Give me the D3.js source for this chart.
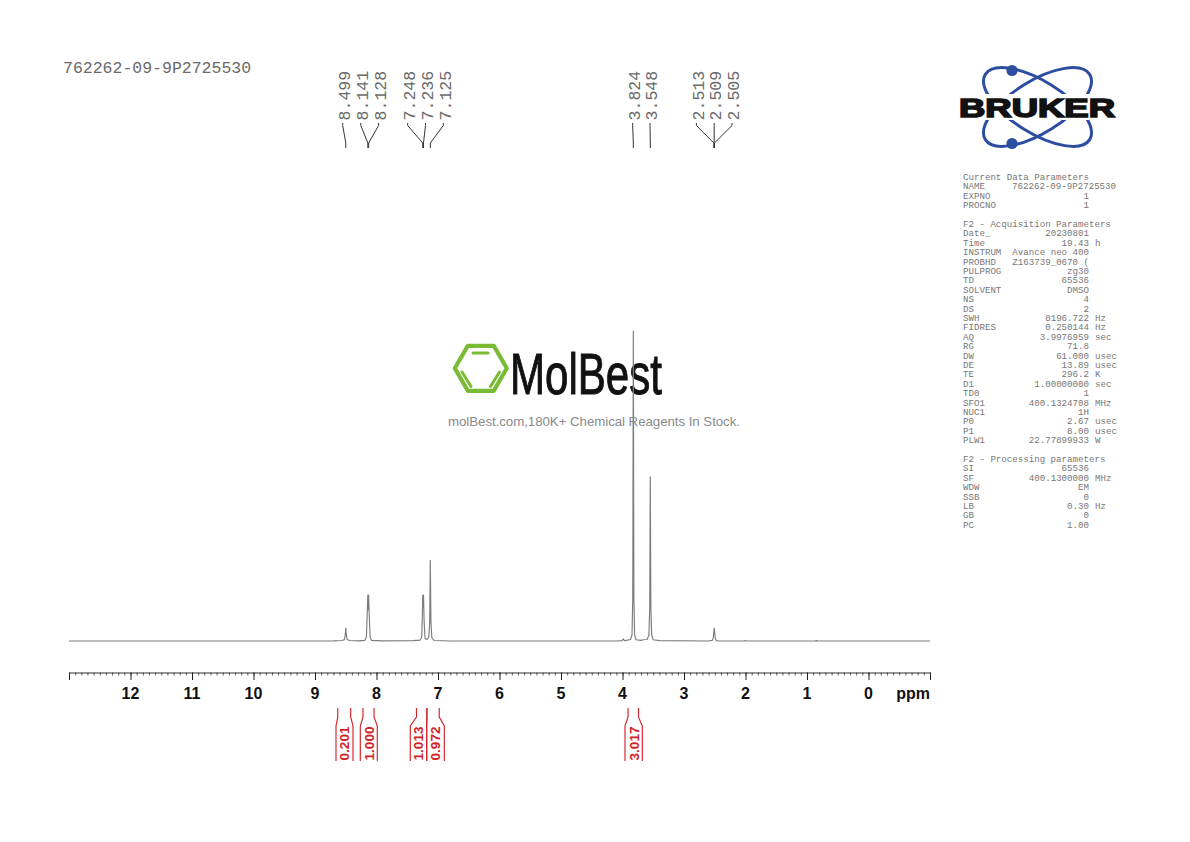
<!DOCTYPE html>
<html><head><meta charset="utf-8">
<script src="https://cdnjs.cloudflare.com/ajax/libs/d3/7.8.5/d3.min.js"></script>
<style>html,body{margin:0;padding:0;background:#fff}svg{display:block}</style>
</head><body><svg id="c" width="1190" height="842"></svg>
<script>
// ---- data ----
const sampleName = "762262-09-9P2725530";
const spectrumPpm = [13,9,8.7,8.56,8.52,8.507,8.499,8.491,8.478,8.44,8.3,8.19,8.165,8.152,8.141,8.134,8.128,8.117,8.104,8.08,7.9,7.4,7.29,7.265,7.254,7.248,7.242,7.236,7.225,7.21,7.18,7.15,7.135,7.125,7.115,7.1,7.06,6.8,5,4.1,4.01,3.985,3.97,3.94,3.87,3.845,3.833,3.824,3.815,3.803,3.78,3.7,3.66,3.6,3.57,3.557,3.548,3.539,3.526,3.5,3.4,2.6,2.54,2.525,2.513,2.509,2.505,2.493,2.475,2.44,2.02,2,1.98,1.2,0.87,0.85,0.83,-1];
const spectrumInt = [0,0,0.05,0.15,0.5,2.2,4.2,2.2,0.5,0.15,0.05,0.2,1.2,8,14.8,10,14.8,8,1.2,0.2,0.05,0.1,0.3,1.2,8,14.8,11,14.8,6,0.8,0.5,1.2,6,26,6,1,0.15,0,0,0,0.1,0.7,0.1,0.2,0.5,2,14,100,14,2,0.4,0.2,0.4,0.5,2,11,53,11,2,0.4,0.1,0,0.2,1,3.5,4.2,3.5,1,0.2,0,0,0.15,0,0,0,0.12,0,0];
const peakPpm = [8.499,8.141,8.128,7.248,7.236,7.125,3.824,3.548,2.513,2.509,2.505];
const peakGroups = [[0],[1,2],[3,4,5],[6],[7],[8,9,10]];
const integralFrom = [8.63,8.22,7.35,7.18,3.91];
const integralTo = [8.42,8.04,7.18,6.98,3.74];
const integralValue = ["0.201","1.000","1.013","0.972","3.017"];
const majorTicks = [13,12,11,10,9,8,7,6,5,4,3,2,1,0,-1];
const majorLabels = [12,11,10,9,8,7,6,5,4,3,2,1,0];
const paramName = ["Current Data Parameters","NAME","EXPNO","PROCNO","","F2 - Acquisition Parameters","Date_","Time","INSTRUM","PROBHD","PULPROG","TD","SOLVENT","NS","DS","SWH","FIDRES","AQ","RG","DW","DE","TE","D1","TD0","SFO1","NUC1","P0","P1","PLW1","","F2 - Processing parameters","SI","SF","WDW","SSB","LB","GB","PC"];
const paramValue = ["","762262-09-9P2725530","1","1","","","20230801","19.43","Avance neo 400","Z163739_0670 (","zg30","65536","DMSO","4","2","8196.722","0.250144","3.9976959","71.8","61.000","13.89","296.2","1.00000000","1","400.1324708","1H","2.67","8.00","22.77899933","","","65536","400.1300000","EM","0","0.30","0","1.00"];
const paramUnit = ["","","","","","","","h","","","","","","","","Hz","Hz","sec","","usec","usec","K","sec","","MHz","","usec","usec","W","","","","MHz","","","Hz","",""];

// ---- layout ----
const svg = d3.select("#c");
const MONO = "'Liberation Mono','DejaVu Sans Mono',monospace";
const SANS = "'Liberation Sans',Arial,sans-serif";
const TXT = "#6a6a6a";
const x = d3.scaleLinear().domain([13,-1]).range([69,930]);
const y = d3.scaleLinear().domain([0,100]).range([641,331]);

// ---- MolBest watermark ----
const wm = svg.append("g");
const hex = d3.range(6).map(i=>[480.8+26*Math.cos(i*Math.PI/3),368.3+22.5/0.866*Math.sin(i*Math.PI/3)]);
wm.append("path").attr("d","M"+hex.join("L")+"Z").attr("fill","none").attr("stroke","#7abb35").attr("stroke-width",4.2).attr("stroke-linejoin","round");
[[473,353,488,353],[462,372,471,386.5],[499.5,372,490.5,386.5]].forEach(s=>{
  wm.append("line").attr("x1",s[0]).attr("y1",s[1]).attr("x2",s[2]).attr("y2",s[3]).attr("stroke","#7abb35").attr("stroke-width",3).attr("stroke-linecap","round");
});
wm.append("text").attr("x",510).attr("y",394).text("MolBest").attr("font-family","'Liberation Sans Narrow','Liberation Sans',sans-serif").attr("font-size",57).attr("fill","#111").attr("stroke","#111").attr("stroke-width",1).attr("textLength",152).attr("lengthAdjust","spacingAndGlyphs");
wm.append("text").attr("x",594).attr("y",426).attr("text-anchor","middle").text("molBest.com,180K+ Chemical Reagents In Stock.").attr("font-family",SANS).attr("font-size",13.3).attr("fill","#8a8a8a").attr("textLength",292).attr("lengthAdjust","spacing");

// ---- title ----
svg.append("text").attr("x",63).attr("y",73).text(sampleName).attr("font-family",MONO).attr("font-size",16.5).attr("fill",TXT);

// ---- spectrum ----
const line = d3.line().x(d=>x(d[0])).y(d=>y(d[1]));
svg.append("path").datum(d3.zip(spectrumPpm,spectrumInt)).attr("d",line).attr("fill","none").attr("stroke","#7c7c7c").attr("stroke-width",1.15).attr("stroke-linejoin","round");

// ---- axis ----
const minor = d3.range(0,141).map(i=>13-i/10);
const gMinor = svg.append("g").attr("transform","translate(0,672.5)").call(d3.axisBottom(x).tickValues(minor).tickSize(3).tickSizeOuter(0).tickFormat(""));
gMinor.selectAll("line").attr("stroke","#333").attr("stroke-width",0.8);
gMinor.select(".domain").attr("stroke","#333").attr("stroke-width",1);
const gMajor = svg.append("g").attr("transform","translate(0,672.5)").call(d3.axisBottom(x).tickValues(majorTicks).tickSize(7.5).tickSizeOuter(0).tickFormat(""));
gMajor.select(".domain").remove();
gMajor.selectAll("line").attr("stroke","#222").attr("stroke-width",1);
svg.selectAll("text.tl").data(majorLabels).join("text").attr("class","tl").attr("x",d=>x(d)).attr("y",699).attr("text-anchor","middle").text(d=>d).attr("font-family",SANS).attr("font-weight",700).attr("font-size",16).attr("fill","#111");
svg.append("text").attr("x",930).attr("y",699).attr("text-anchor","end").text("ppm").attr("font-family",SANS).attr("font-weight",700).attr("font-size",16).attr("fill","#111");

// ---- peak labels: each group of labels is spread 17.8 px apart around its own centre ----
const groupCentre = [342.7,369.7,425.5,632.7,650,714.2];
const labelX = [];
peakGroups.forEach((g,gi)=>g.forEach((p,k)=>{labelX[p]=groupCentre[gi]+(k-(g.length-1)/2)*17.8;}));
const pk = svg.append("g");
peakPpm.forEach((p,i)=>{
  const lx = labelX[i], px = x(p);
  pk.append("text").attr("transform",`translate(${lx+7.2},120.5) rotate(-90)`).text(p.toFixed(3)).attr("font-family",MONO).attr("font-size",16.6).attr("fill",TXT);
  pk.append("path").attr("d",`M${lx},123 L${lx},125.5 L${px},143 L${px},148`).attr("fill","none").attr("stroke","#333").attr("stroke-width",1);
});

// ---- integrals ----
const RED = "#d2232a";
const bracket = [[336,353],[360.3,377.3],[410.3,426.7],[426.7,444.3],[625,642.3]];
const ig = svg.append("g");
integralValue.forEach((v,i)=>{
  const a = x(integralFrom[i]), b = x(integralTo[i]);
  const [l,r] = bracket[i];
  ig.append("path").attr("d",`M${a},708 L${a},717 L${l},726 L${l},761`).attr("fill","none").attr("stroke",RED).attr("stroke-width",1.15);
  ig.append("path").attr("d",`M${b},708 L${b},717 L${r},726 L${r},761`).attr("fill","none").attr("stroke",RED).attr("stroke-width",1.15);
  ig.append("text").attr("transform",`translate(${(l+r)/2+4.9},760.5) rotate(-90)`).text(v).attr("font-family",SANS).attr("font-weight",700).attr("font-size",13.6).attr("fill",RED);
});

// ---- Bruker logo ----
const logo = svg.append("g");
[32,-32].forEach(a=>{
  logo.append("ellipse").attr("cx",1037.5).attr("cy",107).attr("rx",61.5).attr("ry",26).attr("transform",`rotate(${a} 1037.5 107)`).attr("fill","none").attr("stroke","#2d4ea0").attr("stroke-width",3);
});
[70.5,143.5].forEach(cy=>logo.append("circle").attr("cx",1012).attr("cy",cy).attr("r",5.6).attr("fill","#2d4ea0"));
logo.append("rect").attr("x",955).attr("y",94).attr("width",164).attr("height",26).attr("fill","#fff");
logo.append("text").attr("x",959).attr("y",116.5).text("BRUKER").attr("font-family",SANS).attr("font-weight",700).attr("font-size",26).attr("fill","#111").attr("stroke","#111").attr("stroke-width",1.6).attr("textLength",156).attr("lengthAdjust","spacingAndGlyphs");

// ---- parameters ----
const pg = svg.append("g").attr("font-family",MONO).attr("font-size",9.15).attr("fill","#777");
const rowY = i=>180+i*9.4;
paramName.forEach((n,i)=>{
  if(n) pg.append("text").attr("x",963).attr("y",rowY(i)).text(n);
  const v = paramValue[i];
  if(v){
    if(n==="NAME") pg.append("text").attr("x",1012).attr("y",rowY(i)).text(v);
    else pg.append("text").attr("x",1089).attr("y",rowY(i)).attr("text-anchor","end").text(v);
  }
  if(paramUnit[i]) pg.append("text").attr("x",1095).attr("y",rowY(i)).text(paramUnit[i]);
});
</script></body></html>
